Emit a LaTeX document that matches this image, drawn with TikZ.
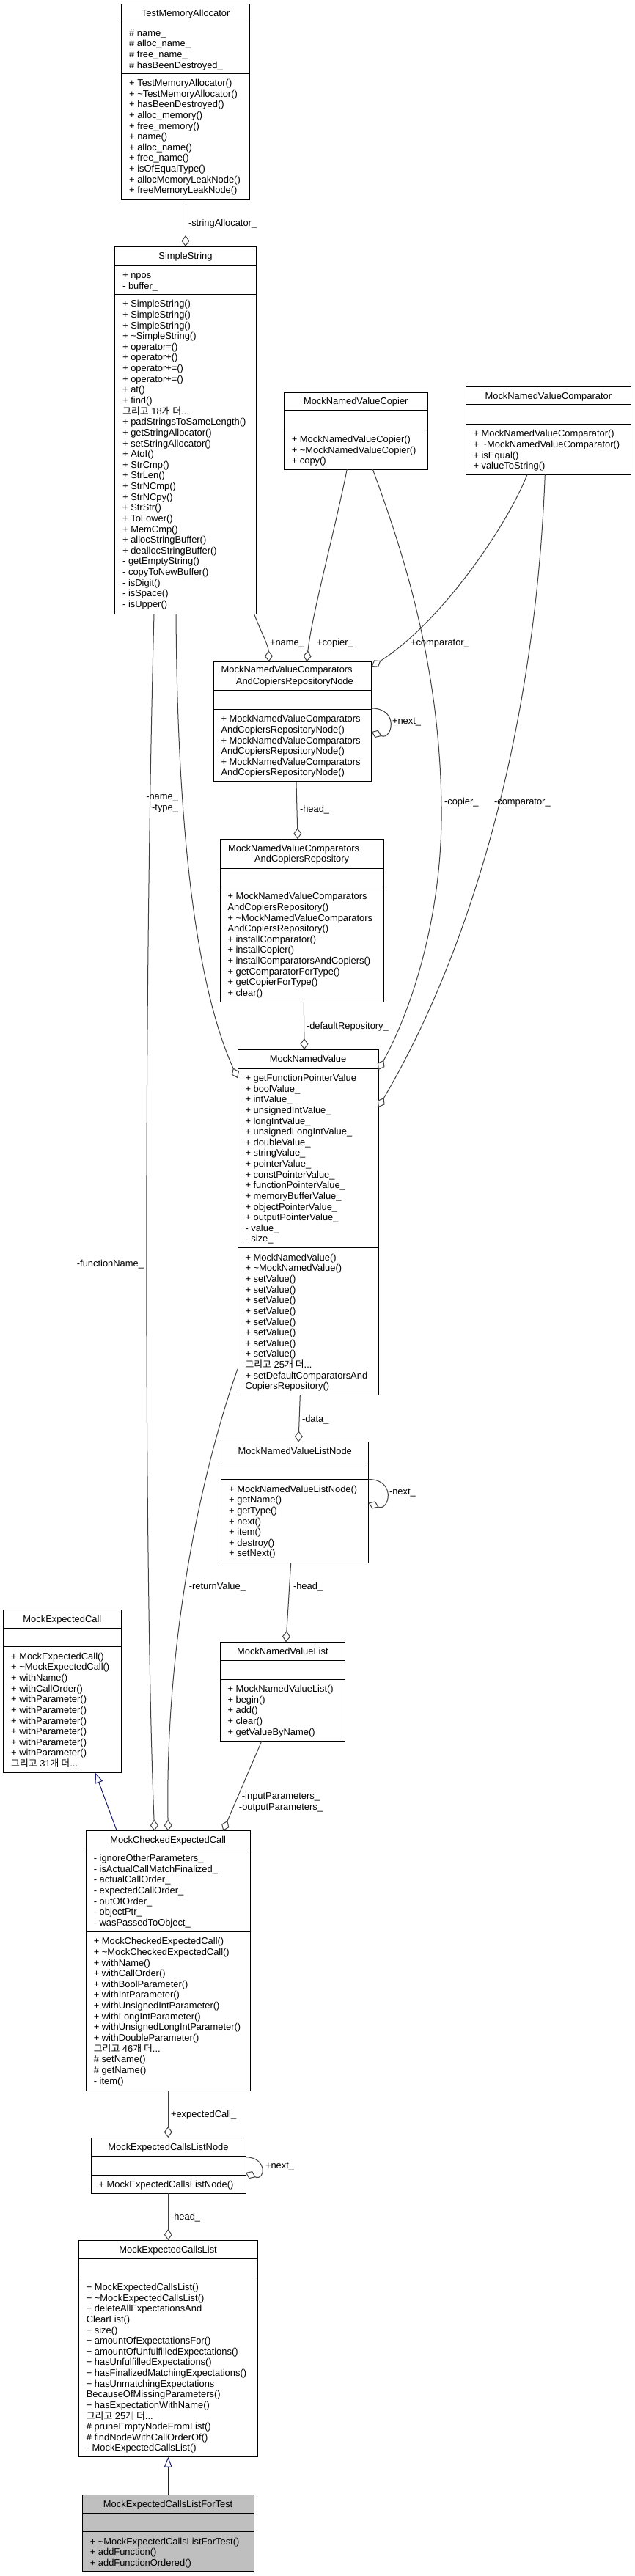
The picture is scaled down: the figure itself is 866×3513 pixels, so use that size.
\documentclass[tikz,border=0pt]{standalone}
\usepackage{fontspec}
\setmainfont{Liberation Sans}
\newfontfamily\kr{Noto Sans CJK KR}
\usetikzlibrary{arrows.meta,calc}
\definecolor{edgegray}{HTML}{404040}
\definecolor{midblue}{HTML}{191970}
\definecolor{rootgray}{HTML}{BFBFBF}
\newcommand{\td}{\textasciitilde}
\newcommand{\more}[1]{{\kr 그리고} #1{\kr 개 더}...}
\newcommand{\cls}[8]{%
  \node[box, fill=#8, minimum width={#4-#2}, minimum height={#5-#3}] (#1) at (#2,#3) {};
  \draw[line width=1pt] (#2,#6) -- (#4,#6);
  \draw[line width=1pt] (#2,#7) -- (#4,#7);}
\newcommand{\mem}[4]{%
  \foreach \ml [count=\i from 0] in {#4}{\node[txt, anchor=base west] (#1-\i) at (#2, {#3+\i*14.63}) {\ml};}}
\begin{document}
\begin{tikzpicture}[x=1pt,y=-1pt,
  txt/.style={font=\fontsize{12.9}{14.63}\selectfont, inner sep=0pt, outer sep=0pt},
  box/.style={draw=black, line width=1pt, anchor=north west, inner sep=0pt, outer sep=0pt},
  agg/.style={draw=edgegray, line width=1pt, -{Diamond[fill=white,length=15pt,width=11pt]}},
  inh/.style={draw=midblue, line width=1pt, -{Triangle[fill=white,length=14pt,width=11pt]}},
  lbl/.style={txt, anchor=base west}]
\fill[white] (0,0) rectangle (866,3513);
\useasboundingbox (0,0) rectangle (866,3513);

% ---------- TestMemoryAllocator
\cls{tma}{165.7}{5}{340.7}{272.7}{31.7}{100}{white}
\node[txt, anchor=base] (tma-t) at ({(165.7+340.7)/2}, 22) {TestMemoryAllocator};
\mem{tmaa}{176.2}{49.2}{\# name\_, \# alloc\_name\_, \# free\_name\_, \# hasBeenDestroyed\_}
\mem{tmam}{176.2}{117.5}{+ TestMemoryAllocator(), + \td TestMemoryAllocator(), + hasBeenDestroyed(), + alloc\_memory(), + free\_memory(), + name(), + alloc\_name(), + free\_name(), + isOfEqualType(), + allocMemoryLeakNode(), + freeMemoryLeakNode()}

% ---------- SimpleString
\cls{ss}{156.7}{336}{349.3}{837.7}{362.3}{401.3}{white}
\node[txt, anchor=base] (ss-t) at ({(156.7+349.3)/2}, 353) {SimpleString};
\mem{ssa}{167.2}{379.8}{+ npos, - buffer\_}
\mem{ssm}{167.2}{418.8}{+ SimpleString(), + SimpleString(), + SimpleString(), + \td SimpleString(), + operator=(), + operator+(), + operator+=(), + operator+=(), + at(), + find(), {\more{18}}, + padStringsToSameLength(), + getStringAllocator(), + setStringAllocator(), + AtoI(), + StrCmp(), + StrLen(), + StrNCmp(), + StrNCpy(), + StrStr(), + ToLower(), + MemCmp(), + allocStringBuffer(), + deallocStringBuffer(), - getEmptyString(), - copyToNewBuffer(), - isDigit(), - isSpace(), - isUpper()}

% ---------- MockNamedValueCopier
\cls{cop}{387.3}{535}{583.3}{640}{559.3}{586}{white}
\node[txt, anchor=base] (cop-t) at ({(387.3+583.3)/2}, 551.8) {MockNamedValueCopier};
\mem{copm}{397.8}{603.5}{+ MockNamedValueCopier(), + \td MockNamedValueCopier(), + copy()}

% ---------- MockNamedValueComparator
\cls{cmp}{635}{527.3}{860.7}{647.3}{551.6}{578.3}{white}
\node[txt, anchor=base] (cmp-t) at ({(635+860.7)/2}, 544.1) {MockNamedValueComparator};
\mem{cmpm}{645.5}{595.8}{+ MockNamedValueComparator(), + \td MockNamedValueComparator(), + isEqual(), + valueToString()}

% ---------- RepositoryNode
\cls{rn}{291}{902.3}{506.7}{1065.7}{941.7}{967.3}{white}
\node[txt, anchor=base west] (rn-t1) at (301.7, 917.8) {MockNamedValueComparators};
\node[txt, anchor=base] (rn-t2) at ({(291+506.7)/2+3}, 933.5) {AndCopiersRepositoryNode};
\mem{rnm}{301.5}{984.8}{+ MockNamedValueComparators, AndCopiersRepositoryNode(), + MockNamedValueComparators, AndCopiersRepositoryNode(), + MockNamedValueComparators, AndCopiersRepositoryNode()}

% ---------- Repository
\cls{rep}{300}{1144.3}{523.3}{1366.7}{1184.3}{1209.3}{white}
\node[txt, anchor=base west] (rep-t1) at (311.2, 1161.8) {MockNamedValueComparators};
\node[txt, anchor=base] (rep-t2) at ({(300+523.3)/2}, 1175.5) {AndCopiersRepository};
\mem{repm}{310.5}{1226.8}{+ MockNamedValueComparators, AndCopiersRepository(), + \td MockNamedValueComparators, AndCopiersRepository(), + installComparator(), + installCopier(), + installComparatorsAndCopiers(), + getComparatorForType(), + getCopierForType(), + clear()}

% ---------- MockNamedValue
\cls{mnv}{324}{1431.2}{516}{1902.7}{1457}{1701.8}{white}
\node[txt, anchor=base] (mnv-t) at (420, 1448) {MockNamedValue};
\mem{mnva}{334.5}{1474.5}{+ getFunctionPointerValue, + boolValue\_, + intValue\_, + unsignedIntValue\_, + longIntValue\_, + unsignedLongIntValue\_, + doubleValue\_, + stringValue\_, + pointerValue\_, + constPointerValue\_, + functionPointerValue\_, + memoryBufferValue\_, + objectPointerValue\_, + outputPointerValue\_, - value\_, - size\_}
\mem{mnvm}{334.5}{1719.3}{+ MockNamedValue(), + \td MockNamedValue(), + setValue(), + setValue(), + setValue(), + setValue(), + setValue(), + setValue(), + setValue(), + setValue(), {\more{25}}, + setDefaultComparatorsAnd, CopiersRepository()}

% ---------- MockNamedValueListNode
\cls{ln}{301.7}{1966.5}{502.7}{2131}{1992}{2017.6}{white}
\node[txt, anchor=base] (ln-t) at ({(301.7+502.7)/2}, 1983.5) {MockNamedValueListNode};
\mem{lnm}{312.2}{2035.1}{+ MockNamedValueListNode(), + getName(), + getType(), + next(), + item(), + destroy(), + setNext()}

% ---------- MockNamedValueList
\cls{nvl}{300}{2239.3}{470.7}{2374}{2264.3}{2290}{white}
\node[txt, anchor=base] (nvl-t) at ({(300+470.7)/2}, 2256.3) {MockNamedValueList};
\mem{nvlm}{310.5}{2307.5}{+ MockNamedValueList(), + begin(), + add(), + clear(), + getValueByName()}

% ---------- MockExpectedCall
\cls{mec}{4.7}{2195.6}{165}{2417.7}{2220}{2245.7}{white}
\node[txt, anchor=base] (mec-t) at ({(4.7+165)/2}, 2212.6) {MockExpectedCall};
\mem{mecm}{15.2}{2263.2}{+ MockExpectedCall(), + \td MockExpectedCall(), + withName(), + withCallOrder(), + withParameter(), + withParameter(), + withParameter(), + withParameter(), + withParameter(), + withParameter(), {\more{31}}}

% ---------- MockCheckedExpectedCall
\cls{mcec}{117.3}{2496.7}{341}{2851}{2521}{2634.3}{white}
\node[txt, anchor=base] (mcec-t) at ({(117.3+341)/2}, 2513.7) {MockCheckedExpectedCall};
\mem{mceca}{127.8}{2538.5}{- ignoreOtherParameters\_, - isActualCallMatchFinalized\_, - actualCallOrder\_, - expectedCallOrder\_, - outOfOrder\_, - objectPtr\_, - wasPassedToObject\_}
\mem{mcecm}{127.8}{2651.8}{+ MockCheckedExpectedCall(), + \td MockCheckedExpectedCall(), + withName(), + withCallOrder(), + withBoolParameter(), + withIntParameter(), + withUnsignedIntParameter(), + withLongIntParameter(), + withUnsignedLongIntParameter(), + withDoubleParameter(), {\more{46}}, \# setName(), \# getName(), - item()}

% ---------- MockExpectedCallsListNode
\cls{ecln}{124}{2915}{335}{2991}{2940.7}{2966}{white}
\node[txt, anchor=base] (ecln-t) at ({(124+335)/2}, 2932) {MockExpectedCallsListNode};
\mem{eclnm}{134.5}{2983.5}{+ MockExpectedCallsListNode()}

% ---------- MockExpectedCallsList
\cls{ecl}{107.3}{3055}{351}{3350.7}{3080.7}{3106}{white}
\node[txt, anchor=base] (ecl-t) at ({(107.3+351)/2}, 3072) {MockExpectedCallsList};
\mem{eclm}{117.8}{3123.5}{+ MockExpectedCallsList(), + \td MockExpectedCallsList(), + deleteAllExpectationsAnd, ClearList(), + size(), + amountOfExpectationsFor(), + amountOfUnfulfilledExpectations(), + hasUnfulfilledExpectations(), + hasFinalizedMatchingExpectations(), + hasUnmatchingExpectations, BecauseOfMissingParameters(), + hasExpectationWithName(), {\more{25}}, \# pruneEmptyNodeFromList(), \# findNodeWithCallOrderOf(), - MockExpectedCallsList()}

% ---------- MockExpectedCallsListForTest
\cls{ecft}{112.3}{3402.7}{346}{3506.7}{3427}{3452.7}{rootgray}
\node[txt, anchor=base] (ecft-t) at ({(112.3+346)/2}, 3419.7) {MockExpectedCallsListForTest};
\mem{ecftm}{122.8}{3470.2}{+ \td MockExpectedCallsListForTest(), + addFunction(), + addFunctionOrdered()}

% ---------- connectors
\draw[agg] ($(tma.south west)+(87.3,0)$) -- ($(ss.north west)+(96.3,0)$);
\node[lbl] (l1) at (257, 308.5) {-stringAllocator\_};

\draw[agg] ($(ss.south west)+(83.3,0)$) .. controls (242,1150) and (270,1350) .. ($(mnv.north west)+(0,39)$);
\node[txt, anchor=base east] (l2a) at (243, 1090) {-name\_};
\node[txt, anchor=base east] (l2b) at (243, 1105) {-type\_};

\draw[agg] ($(ss.south west)+(190,0)$) .. controls (356,862) and (366,880) .. ($(rn.north west)+(75.7,0)$);
\node[lbl] (l3) at (368, 880) {+name\_};

\draw[agg] ($(ss.south west)+(53.3,0)$) .. controls (195,1400) and (198,2200) .. ($(mcec.north west)+(93.4,0)$);
\node[txt, anchor=base east] (l4) at (196, 1727) {-functionName\_};

\draw[agg] ($(cop.south west)+(86,0)$) .. controls (455,730) and (425,840) .. ($(rn.north west)+(127.3,0)$);
\node[lbl] (l5) at (432, 880) {+copier\_};

\draw[agg] ($(cop.south west)+(121,0)$) .. controls (545,740) and (600,900) .. (602,1100) .. controls (604,1250) and (560,1380) .. ($(mnv.north east)+(0,27.8)$);
\node[lbl] (l6) at (606, 1097) {-copier\_};

\draw[agg] ($(cmp.south west)+(84,0)$) .. controls (690,720) and (600,850) .. ($(rn.north east)+(0,6.7)$);
\node[lbl] (l7) at (560, 880) {+comparator\_};

\draw[agg] ($(cmp.south west)+(108.3,0)$) .. controls (730,1000) and (640,1300) .. ($(mnv.north east)+(0,78.8)$);
\node[lbl] (l8) at (674, 1097) {-comparator\_};

\draw[agg] ($(rn.north east)+(0,63.7)$) .. controls (545,966) and (535,1010) .. ($(rn.north east)+(0,95.7)$);
\node[lbl] (l9) at (535, 987.5) {+next\_};

\draw[agg] ($(rn.south west)+(113,0)$) -- ($(rep.north west)+(106,0)$);
\node[lbl] (l10) at (409, 1107) {-head\_};

\draw[agg] ($(rep.south west)+(114.3,0)$) -- ($(mnv.north west)+(91,0)$);
\node[lbl] (l11) at (418, 1403) {-defaultRepository\_};

\draw[agg] ($(mnv.south west)+(85.3,0)$) -- ($(ln.north west)+(105.3,0)$);
\node[lbl] (l12) at (412, 1939) {-data\_};

\draw[agg] ($(mnv.north west)+(0,435.8)$) .. controls (270,2020) and (225,2250) .. ($(mcec.north west)+(112,0)$);
\node[txt, anchor=base east] (l13) at (335, 2167) {-returnValue\_};

\draw[agg] ($(ln.north east)+(0,51)$) .. controls (541,2017.5) and (531,2061.5) .. ($(ln.north east)+(0,83)$);
\node[lbl] (l14) at (531, 2038) {-next\_};

\draw[agg] ($(ln.south west)+(95,0)$) -- ($(nvl.north west)+(90,0)$);
\node[lbl] (l15) at (400, 2167) {-head\_};

\draw[agg] ($(nvl.south west)+(57,0)$) -- ($(mcec.north west)+(187,0)$);
\node[txt, anchor=base] (l16a) at (383, 2453.5) {-inputParameters\_};
\node[txt, anchor=base] (l16b) at (383, 2468.5) {-outputParameters\_};

\draw[inh] ($(mcec.north west)+(42,0)$) -- ($(mec.south west)+(125.3,0)$);

\draw[agg] ($(mcec.south west)+(112,0)$) -- ($(ecln.north west)+(105.3,0)$);
\node[lbl] (l18) at (233, 2887.5) {+expectedCall\_};

\draw[agg] ($(ecln.north east)+(0,26.7)$) .. controls (365,2941.7) and (362,2975) .. ($(ecln.north east)+(0,48)$);
\node[lbl] (l19) at (362, 2957) {+next\_};

\draw[agg] ($(ecln.south west)+(105.3,0)$) -- ($(ecl.north west)+(122,0)$);
\node[lbl] (l20) at (233, 3027) {-head\_};

\draw[inh] ($(ecft.north west)+(117,0)$) -- ($(ecl.south west)+(122,0)$);
\end{tikzpicture}
\end{document}
